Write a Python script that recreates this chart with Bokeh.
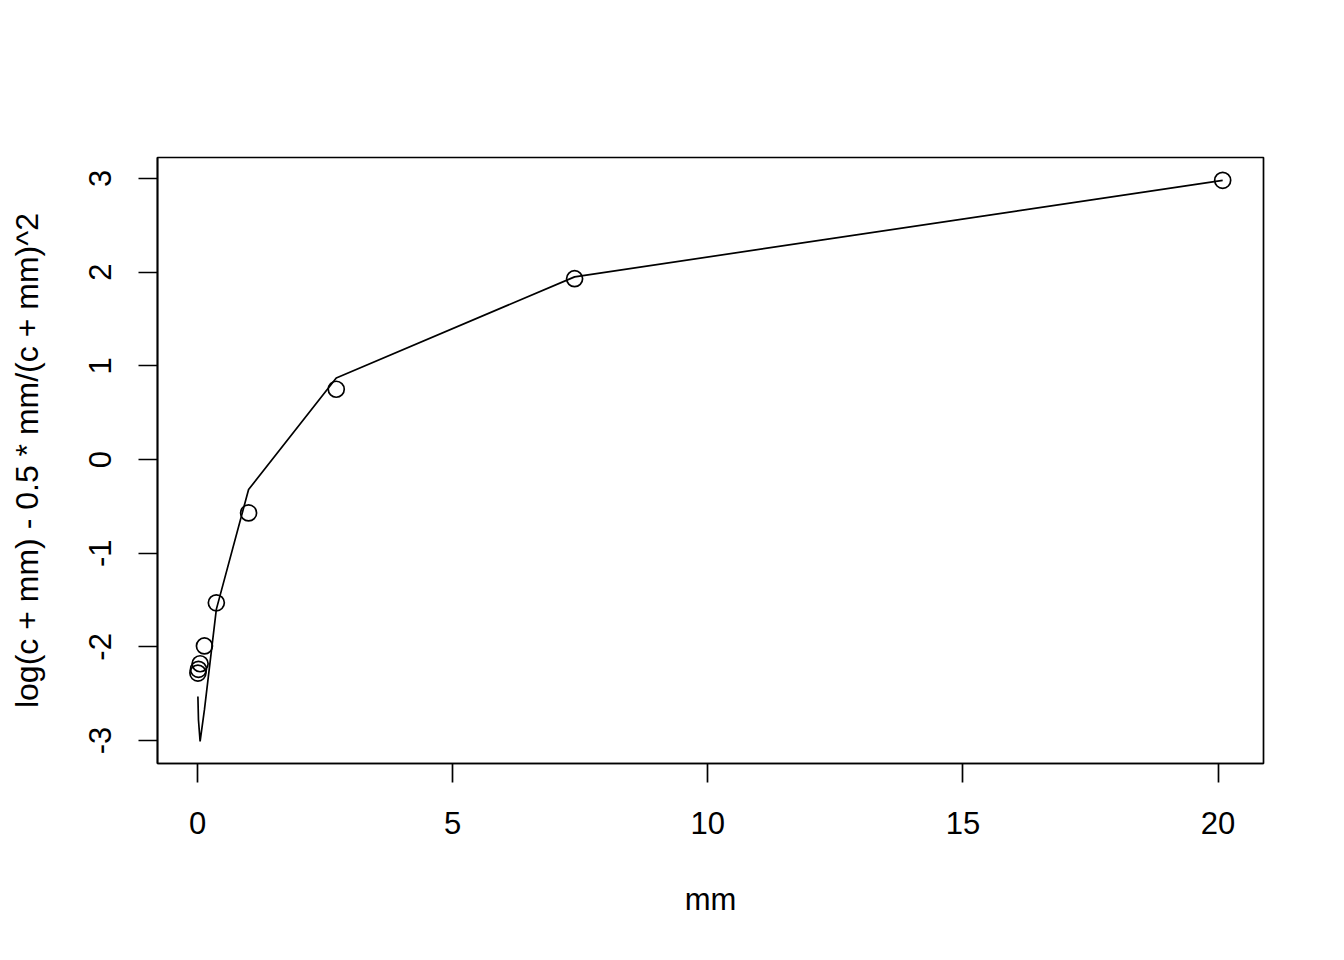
from bokeh.plotting import figure
from bokeh.models import Range1d, FixedTicker
from bokeh.embed import file_html
from bokeh.resources import INLINE

# data
mm = [0.0067, 0.018, 0.050, 0.135, 0.368, 1.0, 2.718, 7.389, 20.09]
obs = [-2.28, -2.24, -2.18, -1.99, -1.53, -0.57, 0.75, 1.93, 2.98]
fit = [-2.53, -2.78, -3.01, -2.67, -1.60, -0.32, 0.87, 1.95, 2.98]

x_ticks = [0, 5, 10, 15, 20]
x_labels = ["0", "5", "10", "15", "20"]
y_ticks = [-3, -2, -1, 0, 1, 2, 3]
y_labels = ["-3", "-2", "-1", "0", "1", "2", "3"]

FONT = "Liberation Sans"
FS = "31px"

p = figure(frame_width=1106, frame_height=606,
           min_border_left=157, min_border_top=157,
           min_border_right=73, min_border_bottom=180,
           x_range=Range1d(-0.785, 20.89), y_range=Range1d(-3.245, 3.224),
           output_backend="svg", toolbar_location=None,
           x_axis_label="mm", y_axis_label="log(c + mm) - 0.5 * mm/(c + mm)^2")

p.grid.visible = False
p.outline_line_color = "black"
p.outline_line_width = 1.7
p.background_fill_color = "white"
p.border_fill_color = "white"

p.xaxis.ticker = FixedTicker(ticks=x_ticks)
p.xaxis.major_label_overrides = {t: l for t, l in zip(x_ticks, x_labels)}
p.yaxis.ticker = FixedTicker(ticks=y_ticks)
p.yaxis.major_label_overrides = {t: l for t, l in zip(y_ticks, y_labels)}

for ax in (p.xaxis, p.yaxis):
    ax.axis_line_color = "black"
    ax.axis_line_width = 1.7
    ax.major_tick_line_color = "black"
    ax.major_tick_line_width = 1.7
    ax.major_tick_out = 19
    ax.major_tick_in = 0
    ax.minor_tick_line_color = None
    ax.major_label_text_font = FONT
    ax.major_label_text_font_size = FS
    ax.major_label_text_color = "black"
    ax.axis_label_text_font = FONT
    ax.axis_label_text_font_size = FS
    ax.axis_label_text_font_style = "normal"
    ax.axis_label_text_color = "black"

p.yaxis.axis_label_text_font_size = "32px"

p.xaxis.major_label_standoff = 29
p.xaxis.axis_label_standoff = 45
p.yaxis.major_label_orientation = "vertical"
p.yaxis.major_label_standoff = 27
p.yaxis.axis_label_standoff = 42

p.line(mm, fit, line_color="black", line_width=1.7)
p.scatter(mm, obs, marker="circle", size=16, fill_color=None,
          line_color="black", line_width=1.7)

open("out.html", "w").write(file_html(p, INLINE))
